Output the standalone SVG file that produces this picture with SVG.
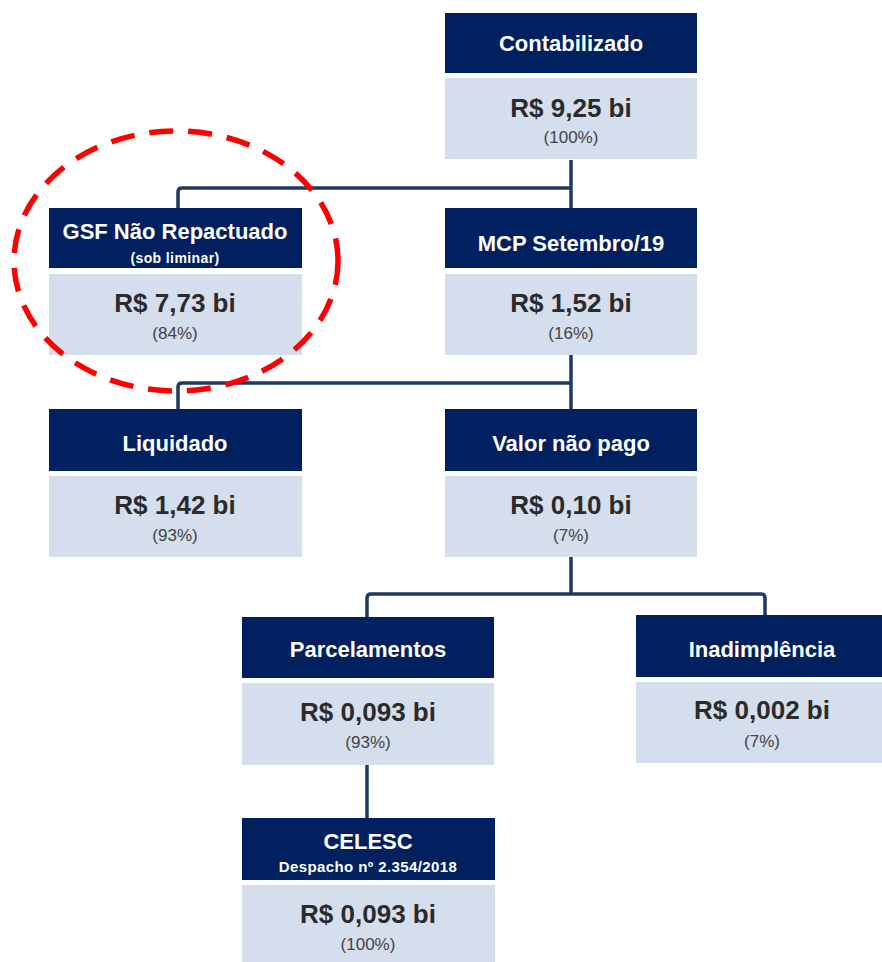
<svg xmlns="http://www.w3.org/2000/svg" width="882" height="962" viewBox="0 0 882 962">
<style>
.hd{fill:#002060}
.bd{fill:#d5deed}
.t{font-family:"Liberation Sans",Arial,sans-serif;font-weight:bold;fill:#ffffff;text-anchor:middle;font-size:22px}
.s{font-family:"Liberation Sans",Arial,sans-serif;font-weight:bold;fill:#ffffff;text-anchor:middle;font-size:14px;letter-spacing:0.4px}
.v{font-family:"Liberation Sans",Arial,sans-serif;font-weight:bold;fill:#2b2b2b;text-anchor:middle;font-size:26px}
.p{font-family:"Liberation Sans",Arial,sans-serif;fill:#444444;text-anchor:middle;font-size:17px}
.c{fill:none;stroke:#1f3864;stroke-width:3.5;stroke-linejoin:round}
</style>
<rect width="882" height="962" fill="#ffffff"/>
<g id="connectors">
<path class="c" d="M571 160 V208"/>
<path class="c" d="M178 208 V192 Q178 188 182 188 H571"/>
<path class="c" d="M571 355 V409"/>
<path class="c" d="M178 409 V387 Q178 383 182 383 H571"/>
<path class="c" d="M571 557 V594"/>
<path class="c" d="M367 617 V598 Q367 594 371 594 H761 Q765 594 765 598 V615"/>
<path class="c" d="M367 765 V818"/>
</g>
<g id="contabilizado">
<rect class="hd" x="445" y="13" width="252" height="60"/>
<rect class="bd" x="445" y="78" width="252" height="81"/>
<text class="t" x="571" y="51">Contabilizado</text>
<text class="v" x="571" y="117">R$ 9,25 bi</text>
<text class="p" x="571" y="143">(100%)</text>
</g>
<g id="gsf">
<rect class="hd" x="49" y="208" width="253" height="60"/>
<rect class="bd" x="49" y="274" width="253" height="81"/>
<text class="t" x="175" y="239">GSF Não Repactuado</text>
<text class="s" x="175" y="263">(sob liminar)</text>
<text class="v" x="175" y="312">R$ 7,73 bi</text>
<text class="p" x="175" y="339">(84%)</text>
</g>
<g id="mcp">
<rect class="hd" x="445" y="208" width="252" height="60"/>
<rect class="bd" x="445" y="274" width="252" height="81"/>
<text class="t" x="571" y="251">MCP Setembro/19</text>
<text class="v" x="571" y="312">R$ 1,52 bi</text>
<text class="p" x="571" y="339">(16%)</text>
</g>
<g id="liquidado">
<rect class="hd" x="49" y="409" width="253" height="62"/>
<rect class="bd" x="49" y="476" width="253" height="81"/>
<text class="t" x="175" y="451">Liquidado</text>
<text class="v" x="175" y="514">R$ 1,42 bi</text>
<text class="p" x="175" y="541">(93%)</text>
</g>
<g id="valor-nao-pago">
<rect class="hd" x="445" y="409" width="252" height="62"/>
<rect class="bd" x="445" y="476" width="252" height="81"/>
<text class="t" x="571" y="451">Valor não pago</text>
<text class="v" x="571" y="514">R$ 0,10 bi</text>
<text class="p" x="571" y="541">(7%)</text>
</g>
<g id="parcelamentos">
<rect class="hd" x="242" y="617" width="252" height="61"/>
<rect class="bd" x="242" y="683" width="252" height="82"/>
<text class="t" x="368" y="657">Parcelamentos</text>
<text class="v" x="368" y="721">R$ 0,093 bi</text>
<text class="p" x="368" y="748">(93%)</text>
</g>
<g id="inadimplencia">
<rect class="hd" x="636" y="615" width="252" height="62"/>
<rect class="bd" x="636" y="682" width="252" height="81"/>
<text class="t" x="762" y="657">Inadimplência</text>
<text class="v" x="762" y="719">R$ 0,002 bi</text>
<text class="p" x="762" y="747">(7%)</text>
</g>
<g id="celesc">
<rect class="hd" x="242" y="818" width="253" height="62"/>
<rect class="bd" x="242" y="885" width="253" height="80"/>
<text class="t" x="368" y="849">CELESC</text>
<text class="s" x="368" y="872" style="font-size:15px">Despacho nº 2.354/2018</text>
<text class="v" x="368" y="923">R$ 0,093 bi</text>
<text class="p" x="368" y="950">(100%)</text>
</g>
<g id="highlight">
<ellipse cx="176" cy="261" rx="162" ry="130" fill="none" stroke="#ff0000" stroke-width="5.5" stroke-dasharray="24 15"/>
</g>
</svg>
